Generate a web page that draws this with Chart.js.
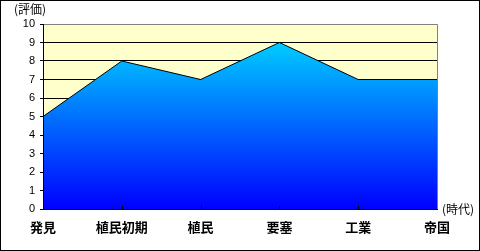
<!DOCTYPE html>
<html>
<head>
<meta charset="utf-8">
<script src="https://cdn.jsdelivr.net/npm/chart.js@4"></script>
<style>
  html, body { margin: 0; padding: 0; background: #ffffff; }
  canvas { display: block; }
</style>
</head>
<body>
<canvas id="eraChart" width="480" height="251"></canvas>
<script>
const eras = ['発見', '植民初期', '植民', '要塞', '工業', '帝国']
const ratings = [5, 8, 7, 9, 7, 7]
const yTicks = [0, 1, 2, 3, 4, 5, 6, 7, 8, 9, 10]
const yAxisLabel = '(評価)'
const xAxisLabel = '(時代)'

const plotBg = '#ffffcc'
const cjkFont = "'Noto Sans CJK JP', sans-serif"

// background, frame, inner x ticks, axis labels
const decor = {
    id: 'decor',
    beforeDraw(chart) {
        const { ctx, chartArea: a } = chart
        ctx.save()
        ctx.fillStyle = plotBg
        ctx.fillRect(a.left, a.top, a.right - a.left, a.bottom - a.top)
        ctx.restore()
    },
    afterDraw(chart) {
        const { ctx, chartArea: a, scales } = chart
        ctx.save()
        ctx.strokeStyle = '#808080'
        ctx.lineWidth = 1
        ctx.beginPath()
        ctx.moveTo(a.left, a.top + 0.5)
        ctx.lineTo(a.right + 0.5, a.top + 0.5)
        ctx.lineTo(a.right + 0.5, a.bottom)
        ctx.stroke()

        ctx.strokeStyle = '#000000'
        ctx.beginPath()
        ctx.moveTo(a.left + 0.5, a.top)
        ctx.lineTo(a.left + 0.5, a.bottom + 0.5)
        ctx.lineTo(a.right + 1, a.bottom + 0.5)
        ctx.stroke()

        // small upward ticks at the categories
        const x = scales.x
        ctx.beginPath()
        for (let i = 1; i < eras.length - 1; i++) {
            const px = Math.round(x.getPixelForValue(i)) + 0.5
            ctx.moveTo(px, a.bottom)
            ctx.lineTo(px, a.bottom - 3)
        }
        ctx.stroke()

        ctx.fillStyle = '#000000'
        ctx.font = '12px ' + cjkFont
        ctx.textBaseline = 'middle'
        ctx.textAlign = 'left'
        ctx.fillText(yAxisLabel, 14, 9)
        ctx.fillText(xAxisLabel, a.right + 5, a.bottom)

        // outer frame
        ctx.strokeRect(0.5, 0.5, chart.width - 1, chart.height - 1)
        ctx.restore()
    }
}

const eraData = {
    labels: eras,
    datasets: [{
        data: ratings,
        fill: 'origin',
        borderColor: '#000000',
        borderWidth: 1,
        pointRadius: 0,
        tension: 0,
        backgroundColor(context) {
            const { ctx, chartArea, scales } = context.chart
            if (!chartArea) return '#0080ff'
            const top = scales.y.getPixelForValue(Math.max(...ratings))
            const g = ctx.createLinearGradient(0, top, 0, chartArea.bottom)
            g.addColorStop(0, '#00ccff')
            g.addColorStop(1, '#0000ff')
            return g
        }
    }]
}

const eraConfig = {
    type: 'line',
    data: eraData,
    plugins: [decor],
    options: {
        responsive: false,
        animation: false,
        layout: {
            padding: { top: 24, right: 43, left: 0, bottom: 0 }
        },
        scales: {
            x: {
                offset: false,
                border: { display: false },
                grid: { display: false, drawTicks: false },
                ticks: {
                    color: '#000000',
                    padding: 10,
                    maxRotation: 0,
                    autoSkip: false,
                    font: { family: cjkFont, size: 13, weight: 'bold' }
                },
                afterFit(scale) { scale.height = 42 }
            },
            y: {
                min: 0,
                max: 10,
                border: { display: false },
                afterBuildTicks(scale) { scale.ticks = yTicks.map(v => ({ value: v })) },
                grid: {
                    color: '#000000',
                    tickLength: 3,
                    drawTicks: true
                },
                ticks: {
                    color: '#000000',
                    padding: 5,
                    font: { family: "'Liberation Sans', sans-serif", size: 11 }
                },
                afterFit(scale) { scale.width = 43 }
            }
        },
        plugins: {
            legend: { display: false },
            tooltip: { enabled: false }
        }
    }
}

const eraChart = new Chart(document.getElementById('eraChart'), eraConfig)
</script>
</body>
</html>
